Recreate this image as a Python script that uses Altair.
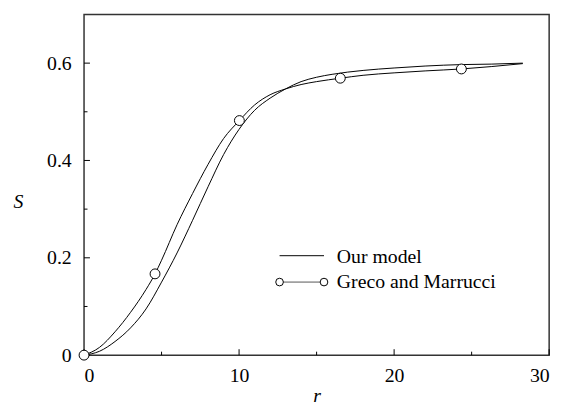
import altair as alt
import pandas as pd

# ---- data ----
model_r = [0, 1, 2, 3, 4, 5, 6, 7, 8, 9, 10, 11, 12, 13, 14, 15, 16, 18, 20, 22, 24.34, 26.3, 28.3]
model_s = [0, 0.008, 0.028, 0.056, 0.095, 0.15, 0.21, 0.277, 0.346, 0.412, 0.464, 0.503, 0.528,
           0.547, 0.562, 0.571, 0.577, 0.585, 0.59, 0.594, 0.597, 0.598, 0.6]

greco_r = [0, 1, 2, 3, 4, 4.58, 5, 6, 7, 8, 9, 10.02, 11, 12, 13, 14, 15, 16.53, 18, 20, 22, 24.34, 26.3, 28.3]
greco_s = [0, 0.016, 0.048, 0.088, 0.135, 0.167, 0.195, 0.268, 0.332, 0.392, 0.445, 0.482, 0.514, 0.535,
           0.547, 0.556, 0.562, 0.569, 0.575, 0.58, 0.584, 0.588, 0.593, 0.599]

marker_r = [0, 4.58, 10.02, 16.53, 24.34]
marker_s = [0, 0.167, 0.482, 0.569, 0.588]

x_major = [0, 10, 20, 30]
x_minor = [5, 15, 25]
y_major = [0, 0.2, 0.4, 0.6]
y_minor = [0.1, 0.3, 0.5]
legend_labels = ["Our model", "Greco and Marrucci"]

W, H = 471, 345
FONT = "Liberation Serif, Times New Roman, serif"

xs = alt.Scale(domain=[0, 30], nice=False, zero=False)
ys = alt.Scale(domain=[0, 0.7], nice=False, zero=False)

model_df = pd.DataFrame({"r": model_r, "S": model_s})
greco_df = pd.DataFrame({"r": greco_r, "S": greco_s})
marker_df = pd.DataFrame({"r": marker_r, "S": marker_s})
one = pd.DataFrame({"a": [0]})

x_axis = alt.Axis(values=x_major, format="d", ticks=False, domain=False, grid=False,
                  labelFont=FONT, labelFontSize=20, labelColor="black", labelPadding=11,
                  title="r", titleFont=FONT, titleFontSize=20, titleFontStyle="italic",
                  titleFontWeight="normal", titleColor="black", titleY=47, titleBaseline="alphabetic")
y_axis = alt.Axis(values=y_major, format="~g", ticks=False, domain=False, grid=False,
                  labelFont=FONT, labelFontSize=20, labelColor="black", labelPadding=13,
                  title="S", titleFont=FONT, titleFontSize=20, titleFontStyle="italic",
                  titleFontWeight="normal", titleColor="black", titleAngle=0,
                  titleX=-67, titleY=189, titleAlign="center", titleBaseline="middle")

model_line = alt.Chart(model_df).mark_line(color="black", strokeWidth=1, interpolate="monotone").encode(
    x=alt.X("r:Q", scale=xs, axis=x_axis),
    y=alt.Y("S:Q", scale=ys, axis=y_axis),
)
greco_line = alt.Chart(greco_df).mark_line(color="black", strokeWidth=1, interpolate="monotone").encode(
    x=alt.X("r:Q", scale=xs), y=alt.Y("S:Q", scale=ys)
)
markers = alt.Chart(marker_df).mark_point(shape="circle", size=100, filled=True, fill="white",
                                          stroke="black", strokeWidth=1, opacity=1).encode(
    x=alt.X("r:Q", scale=xs), y=alt.Y("S:Q", scale=ys)
)

# inward ticks
xmaj = alt.Chart(pd.DataFrame({"t": x_major})).mark_rule(color="black", strokeWidth=1).encode(
    x=alt.X("t:Q", scale=xs), y=alt.value(H), y2=alt.value(H - 6))
xmin = alt.Chart(pd.DataFrame({"t": x_minor})).mark_rule(color="black", strokeWidth=1).encode(
    x=alt.X("t:Q", scale=xs), y=alt.value(H), y2=alt.value(H - 3.5))
ymaj = alt.Chart(pd.DataFrame({"t": y_major})).mark_rule(color="black", strokeWidth=1).encode(
    y=alt.Y("t:Q", scale=ys), x=alt.value(0), x2=alt.value(6))
ymin = alt.Chart(pd.DataFrame({"t": y_minor})).mark_rule(color="black", strokeWidth=1).encode(
    y=alt.Y("t:Q", scale=ys), x=alt.value(0), x2=alt.value(3.5))

# legend
leg_line1 = alt.Chart(one).mark_rule(color="black", strokeWidth=1).encode(
    x=alt.value(198), x2=alt.value(243), y=alt.value(244.3))
leg_line2 = alt.Chart(one).mark_rule(color="#555555", strokeWidth=1).encode(
    x=alt.value(198), x2=alt.value(243), y=alt.value(271))
leg_c1 = alt.Chart(one).mark_point(shape="circle", size=60, filled=True, fill="white",
                                   stroke="black", strokeWidth=1, opacity=1).encode(
    x=alt.value(198), y=alt.value(271))
leg_c2 = alt.Chart(one).mark_point(shape="circle", size=60, filled=True, fill="white",
                                   stroke="black", strokeWidth=1, opacity=1).encode(
    x=alt.value(243), y=alt.value(271))
leg_t1 = alt.Chart(one).mark_text(font=FONT, fontSize=20, align="left", baseline="alphabetic",
                                  color="black").encode(
    x=alt.value(256), y=alt.value(251.6), text=alt.value(legend_labels[0]))
leg_t2 = alt.Chart(one).mark_text(font=FONT, fontSize=20, align="left", baseline="alphabetic",
                                  color="black").encode(
    x=alt.value(256), y=alt.value(276.6), text=alt.value(legend_labels[1]))

chart = alt.layer(
    model_line, greco_line, xmaj, xmin, ymaj, ymin,
    leg_line1, leg_line2, leg_c1, leg_c2, leg_t1, leg_t2, markers
).properties(
    width=W, height=H,
    padding={"left": 77, "top": 4, "right": 12, "bottom": 52},
    autosize=alt.AutoSizeParams(type="none"),
    background="white",
).configure_view(
    stroke="#333333", strokeWidth=1.5
)

chart.save("out.html", embed_options={"renderer": "svg", "actions": False})
